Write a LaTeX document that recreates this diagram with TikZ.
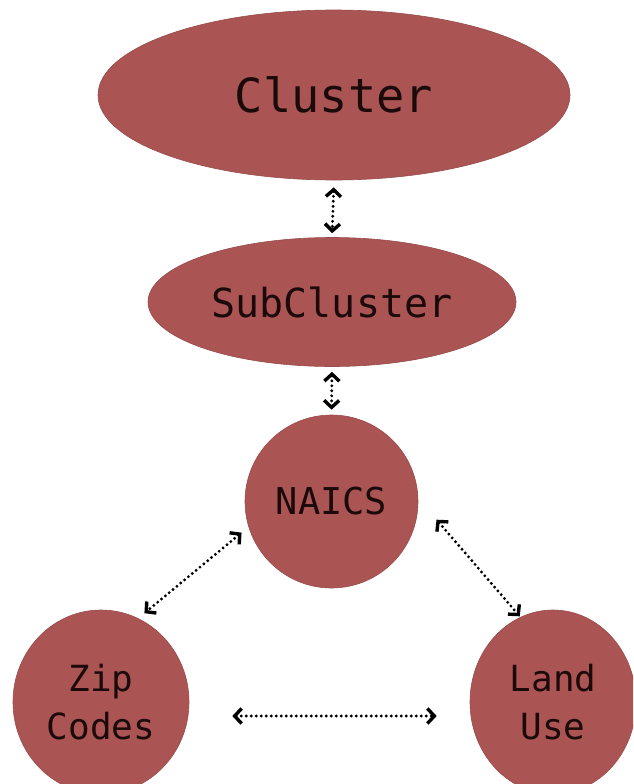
\documentclass[tikz,border=0pt]{standalone}
\usepackage{fontspec}
\setmonofont{DejaVu Sans Mono}
\usepackage{tikz}
\usetikzlibrary{arrows.meta,positioning,shapes.geometric}

\definecolor{blobred}{RGB}{170,84,84}
\definecolor{blobtext}{RGB}{28,10,10}

\tikzset{
  blob/.style={ellipse, fill=blobred, draw=blobred!90!black, line width=0.6pt,
    inner sep=0pt, text=blobtext, font=\ttfamily, align=center},
  link/.style={line width=3.2pt, dash pattern=on 0pt off 5pt, line cap=round,
    >={Straight Barb[length=7pt,width=15pt,line width=3.4pt]}, <->}
}

\begin{document}
\begin{tikzpicture}[x=1pt, y=-1pt]
    \useasboundingbox (0,0) rectangle (633,784);
    \clip (0,0) rectangle (633,784);

    \node[blob, minimum width=472pt, minimum height=170pt, font=\ttfamily\fontsize{47}{56}\selectfont]
        (cluster) at (334,95) {Cluster};
    \node[blob, minimum width=368pt, minimum height=129pt, font=\ttfamily\fontsize{40}{48}\selectfont]
        (sub) at (332,302) {SubCluster};
    \node[blob, minimum width=173pt, minimum height=173pt, font=\ttfamily\fontsize{37}{46}\selectfont]
        (naics) at (331.5,501.5) {NAICS};
    \node[blob, minimum width=176pt, minimum height=184pt, font=\ttfamily\fontsize{36}{48}\selectfont]
        (zip) at (101,702) {Zip\\Codes};
    \node[blob, minimum width=166pt, minimum height=184pt, font=\ttfamily\fontsize{36}{48}\selectfont]
        (land) at (553,702) {Land\\Use};

    % links between levels
    \draw[link, shorten <=7pt, shorten >=4pt] (cluster.south) -- (sub.north);
    \draw[link, shorten <=5pt, shorten >=5pt] (sub.south) -- (naics.north);
    \draw[link, shorten <=9pt, shorten >=8pt] (naics.197) -- (zip.66);
    \draw[link, shorten <=28pt, shorten >=1pt] (naics.2) -- (land.111);
    \draw[link, shorten <=43pt, shorten >=33pt] ([yshift=-14pt]zip.east) -- ([yshift=-14pt]land.west);

\end{tikzpicture}
\end{document}
